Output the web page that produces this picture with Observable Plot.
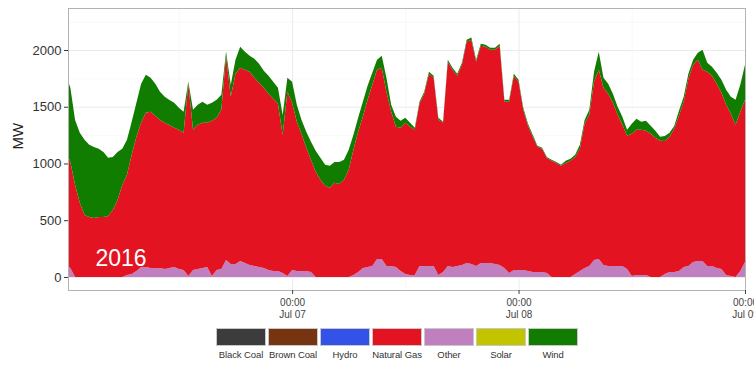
<!DOCTYPE html>
<html>
<head>
<meta charset="utf-8">
<script src="https://cdn.jsdelivr.net/npm/d3@7"></script>
<script src="https://cdn.jsdelivr.net/npm/@observablehq/plot@0.6"></script>
<style>
  html, body { margin: 0; padding: 0; background: #fff; }
  body { width: 754px; height: 377px; overflow: hidden; font-family: "Liberation Sans", Arial, sans-serif; }
  #chart svg { display: block; }
  #legend { display: flex; margin: 8px 0 0 216px; }
  .item { width: 52px; display: flex; flex-direction: column; align-items: flex-start; }
  .sw { width: 48px; height: 16px; border: 1px solid #c8c8c8; }
  .lab { width: 50px; text-align: center; font-size: 9.5px; letter-spacing: -0.1px; color: #333; margin-top: 3px; white-space: nowrap; }
</style>
</head>
<body>
<div id="chart"></div>
<div id="legend"></div>
<script>
// ---- categories & colours ----
const categories = ["Black Coal", "Brown Coal", "Hydro", "Natural Gas", "Other", "Solar", "Wind"];
const colors = ["#3c3c3c", "#763410", "#3352e8", "#e41322", "#c080c0", "#c2c400", "#107c00"];
const stackOrder = ["Other", "Natural Gas", "Wind"];

// ---- half-hourly series (MW), from Jul 6 2016 00:00 to Jul 9 2016 00:00 ----
const other = [106,79,0,0,0,0,0,0,0,0,0,0,0,18,26,53,88,88,79,79,
  79,71,79,88,71,62,9,62,71,79,88,9,62,71,150,115,115,141,123,106,
  97,88,79,62,53,53,35,9,62,53,53,53,44,0,0,0,0,0,0,0,
  0,18,44,79,88,97,159,159,97,97,88,53,26,18,18,97,97,97,97,18,
  44,97,88,97,106,123,115,97,123,123,123,115,106,79,35,62,62,62,53,44,
  44,44,35,0,0,0,0,0,26,53,79,97,150,159,106,97,97,97,97,71,
  9,18,18,18,0,0,0,26,44,44,53,88,97,132,141,141,97,97,79,71,
  18,9,0,53,132];
const gas = [1014,935,811,653,547,529,520,529,529,538,591,679,811,882,1050,1182,1270,1358,1376,1341,
  1305,1288,1261,1226,1226,1208,1693,1235,1270,1279,1270,1367,1341,1402,1799,1473,1676,1702,1702,1702,
  1658,1623,1588,1552,1517,1473,1217,1623,1473,1314,1208,1085,988,926,856,803,785,829,820,856,
  944,1103,1235,1332,1473,1596,1667,1685,1535,1358,1235,1261,1332,1305,1279,1429,1517,1693,1658,1367,
  1314,1799,1738,1676,1764,1949,1976,1799,1914,1905,1879,1887,1932,1464,1508,1711,1658,1411,1279,1191,
  1103,1085,1014,1023,1005,979,1005,1023,1032,1076,1270,1332,1570,1667,1561,1517,1438,1332,1244,1173,
  1252,1279,1279,1270,1261,1226,1200,1173,1191,1261,1367,1455,1649,1738,1773,1685,1711,1676,1623,1552,
  1499,1429,1341,1402,1429];
const wind = [670,653,573,617,662,635,626,600,573,512,467,423,318,309,291,300,344,335,300,282,
  247,229,220,220,194,185,18,176,176,185,159,159,159,132,35,106,123,185,159,141,
  168,168,150,159,150,141,176,123,185,150,123,141,159,185,194,185,194,185,194,176,
  176,132,123,132,123,106,88,106,123,62,88,62,44,35,18,18,18,18,18,18,
  9,18,18,18,18,18,18,18,18,18,18,18,18,18,18,18,18,18,18,18,
  9,9,9,9,9,9,18,18,18,35,35,44,88,159,88,88,79,71,71,53,
  88,97,71,88,71,62,35,44,35,26,44,44,44,44,62,176,79,79,97,115,
  132,150,220,238,309];

// ---- axis ticks ----
const yTicks = [0, 500, 1000, 1500, 2000];
const yMinor = [250, 750, 1250, 1750, 2250];
const xTickDays = [7, 8, 9];
const xMinorDays = [6, 7, 8];
const yearLabel = [{hour: 3.1, mw: 170, text: "2016"}];

const t0 = Date.UTC(2016, 6, 6, 0, 0);
const times = other.map((_, i) => new Date(t0 + i * 30 * 60000));
const seriesByName = {"Other": other, "Natural Gas": gas, "Wind": wind};
const data = [];
for (const name of stackOrder) {
  seriesByName[name].forEach((v, i) => data.push({date: times[i], type: name, value: v}));
}
const xTicks = xTickDays.map(d => new Date(Date.UTC(2016, 6, d)));
const xMinor = xMinorDays.map(d => new Date(Date.UTC(2016, 6, d, 12)));
const fmt = d3.utcFormat("%H:%M\n%b %d");

const chart = Plot.plot({
  width: 754,
  height: 320,
  marginTop: 8,
  marginRight: 9,
  marginBottom: 30,
  marginLeft: 68,
  style: {fontFamily: "Liberation Sans, Arial, sans-serif", background: "white"},
  x: {type: "utc", domain: [new Date(t0 + 15 * 60000), new Date(Date.UTC(2016, 6, 9))]},
  y: {domain: [-115, 2370]},
  color: {domain: categories, range: colors},
  marks: [
    Plot.gridY(yMinor, {stroke: "#f4f4f4", strokeOpacity: 1, strokeWidth: 0.6}),
    Plot.gridY(yTicks, {stroke: "#ebebeb", strokeOpacity: 1, strokeWidth: 1}),
    Plot.gridX(xMinor, {stroke: "#f4f4f4", strokeOpacity: 1, strokeWidth: 0.6}),
    Plot.gridX(xTicks, {stroke: "#ebebeb", strokeOpacity: 1, strokeWidth: 1}),
    Plot.areaY(data, {x: "date", y: "value", fill: "type", order: stackOrder, clip: true}),
    Plot.frame({stroke: "#b3b3b3"}),
    Plot.axisY(yTicks, {tickSize: 4, tickPadding: 3, fontSize: 13, label: null, tickFormat: d => String(d), color: "#333"}),
    Plot.axisX(xTicks, {tickSize: 4, tickPadding: 3, fontSize: 10, label: null, tickFormat: fmt, color: "#444", lineHeight: 1.2}),
    Plot.text(["MW"], {frameAnchor: "left", dx: -50, rotate: -90, fontSize: 15, fill: "#222"}),
    Plot.text(yearLabel, {x: d => new Date(t0 + d.hour * 3600000), y: "mw", text: "text", fill: "white", fontSize: 23, textAnchor: "start"})
  ]
});
document.getElementById("chart").appendChild(chart);

const legend = document.getElementById("legend");
categories.forEach((c, i) => {
  const item = document.createElement("div");
  item.className = "item";
  const sw = document.createElement("div");
  sw.className = "sw";
  sw.style.background = colors[i];
  const lab = document.createElement("div");
  lab.className = "lab";
  lab.textContent = c;
  item.appendChild(sw);
  item.appendChild(lab);
  legend.appendChild(item);
});
</script>
</body>
</html>
